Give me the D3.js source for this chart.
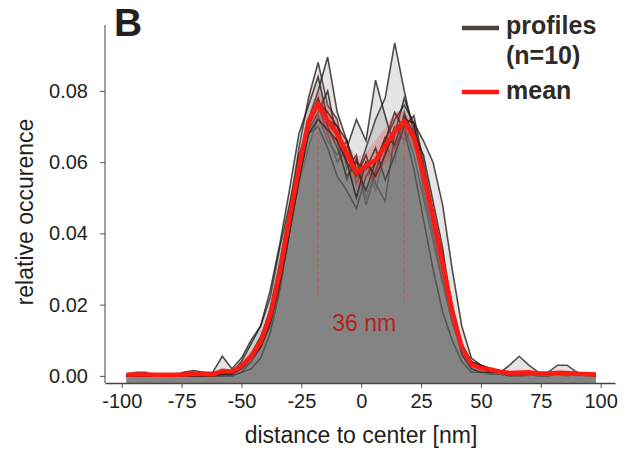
<!DOCTYPE html>
<html>
<head>
<meta charset="utf-8">
<script src="https://cdn.jsdelivr.net/npm/d3@7"></script>
<style>
  body { margin: 0; background: #fff; }
  svg text { font-family: "Liberation Sans", Arial, Helvetica, sans-serif; fill: #231f20; }
</style>
</head>
<body>
<svg id="chart"></svg>
<script>
var width = 629;
var height = 452;

// bin centres (nm)
var distance = [-98,-94,-90,-86,-82,-78,-74,-70,-66,-62,-58,-54,-50,-46,-42,-38,-34,-30,-26,-22,
  -18,-14,-10,-6,-2,2,6,10,14,18,22,26,30,34,38,42,46,50,54,58,62,66,70,74,78,82,86,90,94,98];

// the 10 individual profiles
var p1 = [0,0,0.0005,0,0,0,0.001,0,0.0005,0,0.001,0.001,
  0.002,0.005,0.009,0.016,0.028,0.046,0.064,0.078,0.088,0.076,0.072,0.058,0.062,0.050,0.058,0.065,0.060,0.074,
  0.066,0.055,0.042,0.030,0.016,0.007,0.003,0.002,0.001,0.001,0,0.001,0.001,0,0,0.001,0.001,0,0.0005,0];
var p2 = [0.0005,0.001,0.001,0,0,0,0,0.001,0,0,0.0005,0.001,
  0.003,0.006,0.010,0.019,0.032,0.047,0.060,0.072,0.080,0.0895,0.074,0.066,0.054,0.060,0.052,0.063,0.070,0.066,
  0.070,0.052,0.040,0.027,0.017,0.008,0.003,0.002,0.002,0.001,0.001,0,0,0.001,0.001,0.003,0.003,0.001,0.0005,0.0005];
var p3 = [0,0,0,0,0,0.0005,0,0,0,0.0005,0,0.0005,
  0.002,0.004,0.008,0.015,0.027,0.041,0.054,0.064,0.073,0.066,0.062,0.066,0.056,0.064,0.072,0.078,0.0935,0.080,
  0.068,0.058,0.046,0.033,0.019,0.009,0.004,0.003,0.002,0.001,0.0005,0.001,0.001,0.0005,0.0005,0.001,0.0005,0.0005,0.0005,0];
var p4 = [0,0,0,0.0005,0.0005,0,0,0,0.001,0.001,0.0055,0.002,
  0.005,0.010,0.014,0.022,0.036,0.048,0.062,0.070,0.076,0.068,0.060,0.064,0.072,0.066,0.083,0.073,0.064,0.070,
  0.062,0.050,0.038,0.026,0.015,0.007,0.003,0.002,0.0015,0.001,0.001,0.001,0.0005,0.0005,0.001,0.0005,0,0.0005,0.0005,0.0005];
var p5 = [0,0.0005,0,0,0,0,0,0,0,0,0,0,
  0.001,0.004,0.008,0.014,0.025,0.040,0.056,0.069,0.074,0.080,0.066,0.055,0.061,0.048,0.057,0.066,0.072,0.076,
  0.071,0.066,0.060,0.048,0.030,0.014,0.005,0.003,0.002,0.001,0.003,0.0055,0.003,0.001,0.0005,0.001,0.001,0.0005,0,0];
var p6 = [0,0,0,0,0,0,0.0005,0.001,0.0005,0,0.001,0.001,
  0.004,0.009,0.014,0.024,0.037,0.052,0.068,0.076,0.084,0.072,0.070,0.060,0.056,0.062,0.054,0.049,0.068,0.078,
  0.070,0.058,0.046,0.032,0.018,0.008,0.003,0.002,0.001,0.001,0.0005,0.0005,0.001,0.0005,0.0005,0.001,0.0005,0.0005,0.0005,0];
var p7 = [0.0005,0,0,0,0,0,0,0,0,0,0,0,
  0.001,0.002,0.005,0.012,0.024,0.040,0.055,0.068,0.070,0.064,0.056,0.052,0.047,0.056,0.060,0.066,0.074,0.069,
  0.058,0.044,0.030,0.018,0.010,0.004,0.001,0.001,0.0005,0.0005,0,0,0.0005,0,0,0.0005,0.0005,0.0005,0.0005,0.0005];
var p8 = [0,0.0005,0.0005,0.0005,0,0,0,0,0,0,0.001,0.0005,
  0.002,0.005,0.008,0.015,0.027,0.043,0.057,0.071,0.078,0.070,0.064,0.056,0.060,0.058,0.064,0.055,0.062,0.070,
  0.073,0.060,0.046,0.034,0.020,0.009,0.004,0.003,0.002,0.0015,0.001,0.001,0.001,0.0005,0.0005,0.001,0.001,0.001,0.0005,0.0005];
var p9 = [0,0,0,0,0,0,0.001,0.0015,0.001,0.0005,0.001,0.001,
  0.003,0.006,0.011,0.018,0.030,0.045,0.058,0.072,0.077,0.074,0.070,0.066,0.058,0.052,0.060,0.067,0.065,0.073,
  0.068,0.062,0.049,0.036,0.017,0.006,0.002,0.001,0.001,0.001,0.0005,0.0005,0.0005,0.0005,0.0005,0.0005,0.0005,0.0005,0.0005,0.0005];
var p10 = [0,0,0,0,0,0,0,0,0,0,0.0005,0.0005,
  0.003,0.005,0.008,0.015,0.026,0.040,0.055,0.068,0.072,0.069,0.066,0.060,0.050,0.060,0.056,0.062,0.069,0.072,
  0.071,0.058,0.044,0.030,0.017,0.008,0.003,0.002,0.002,0.001,0.001,0.001,0.001,0.0005,0.0005,0.0005,0.0005,0.0005,0.0005,0];
var profiles = [p1, p2, p3, p4, p5, p6, p7, p8, p9, p10];

// mean profile
var mean = [0.0003,0.0004,0.0004,0.0003,0.0003,0.0003,0.0004,0.0005,0.0005,0.0004,0.0014,0.0012,
  0.0028,0.0055,0.0095,0.0170,0.0290,0.0440,0.0585,0.0715,0.0765,0.0715,0.0680,0.0625,0.0570,0.0590,0.0605,0.0645,0.0685,0.0715,
  0.0670,0.0565,0.0445,0.0315,0.0180,0.0080,0.0032,0.0022,0.0018,0.0012,0.0008,0.0009,0.0010,0.0006,0.0006,0.0009,0.0008,0.0006,0.0005,0.0004];

var xTicks = [-100, -75, -50, -25, 0, 25, 50, 75, 100];
var yTicks = [0, 0.02, 0.04, 0.06, 0.08];
var peaks = [-18, 18];       // dashed markers
var peakLabel = "36 nm";
var legendLabels = ["profiles", "(n=10)", "mean"];

var svg = d3.select("#chart").attr("width", width).attr("height", height);

var x = d3.scaleLinear().domain([-107, 106]).range([105, 615]);
var y = d3.scaleLinear().domain([-0.002, 0.0985]).range([383, 25]);

var area = d3.area()
  .x(function(d, i){ return x(distance[i]); })
  .y0(y.range()[0])
  .y1(function(d){ return y(d); });
var line = d3.line()
  .x(function(d, i){ return x(distance[i]); })
  .y(function(d){ return y(d); });

// 95% band round the mean, from the profiles
var band = distance.map(function(dd, i){
  var vals = profiles.map(function(p){ return p[i]; });
  var se = d3.deviation(vals) / Math.sqrt(vals.length);
  return { lo: mean[i] - 1.96 * se, hi: mean[i] + 1.96 * se };
});

var plot = svg.append("g");

profiles.forEach(function(p){
  plot.append("path").attr("d", area(p))
    .attr("fill", "#787878").attr("fill-opacity", 0.2);
  plot.append("path").attr("d", line(p))
    .attr("fill", "none").attr("stroke", "#241a16").attr("stroke-opacity", 0.78)
    .attr("stroke-width", 1.6).attr("stroke-linejoin", "miter");
});

plot.append("path")
  .attr("d", d3.area()
    .x(function(d, i){ return x(distance[i]); })
    .y0(function(d){ return y(d.lo); })
    .y1(function(d){ return y(d.hi); })(band))
  .attr("fill", "#ff2020").attr("fill-opacity", 0.2);

// dashed peak markers
peaks.forEach(function(pk){
  var i = distance.indexOf(pk);
  plot.append("line")
    .attr("x1", x(pk)).attr("x2", x(pk))
    .attr("y1", y(mean[i])).attr("y2", y(0.0213))
    .attr("stroke", "#c8504a").attr("stroke-width", 1)
    .attr("stroke-dasharray", "4,3").attr("opacity", 0.85);
});

plot.append("path").attr("d", line(mean))
  .attr("fill", "none").attr("stroke", "#ff1a12").attr("stroke-width", 4.5)
  .attr("stroke-linejoin", "round");

plot.append("text")
  .attr("x", x(0) + 3).attr("y", 331)
  .attr("text-anchor", "middle")
  .style("font-size", "23px").style("fill", "#b8221e")
  .text(peakLabel);

// axes
var xAxis = svg.append("g").attr("transform", "translate(0,383)")
  .call(d3.axisBottom(x).tickValues(xTicks).tickFormat(function(d){ return String(d); })
    .tickSize(5).tickSizeOuter(0).tickPadding(6));
var yAxis = svg.append("g").attr("transform", "translate(105,0)")
  .call(d3.axisLeft(y).tickValues(yTicks).tickFormat(d3.format(".2f")).tickSize(5).tickSizeOuter(0).tickPadding(12));

[xAxis, yAxis].forEach(function(a){
  a.selectAll(".tick line").attr("stroke", "#5a5450").attr("stroke-width", 1);
  a.selectAll(".tick text").style("font-size", "20px").style("fill", "#231f20")
    .attr("font-family", null);
});
xAxis.select(".domain").attr("stroke", "#4a433f").attr("stroke-width", 1.5);
yAxis.select(".domain").attr("stroke", "#85807a").attr("stroke-width", 1.5)
  .attr("d", "M0," + y(0.0985) + "V383");

svg.append("text")
  .attr("x", 361).attr("y", 443)
  .attr("text-anchor", "middle")
  .style("font-size", "23px")
  .text("distance to center [nm]");

svg.append("text")
  .attr("transform", "translate(33,212) rotate(-90)")
  .attr("text-anchor", "middle")
  .style("font-size", "23px")
  .text("relative occurence");

svg.append("text")
  .attr("x", 114).attr("y", 36)
  .style("font-size", "39px").style("font-weight", "bold")
  .text("B");

// legend
var legend = svg.append("g");
legend.append("line").attr("x1", 462).attr("x2", 499).attr("y1", 28).attr("y2", 28)
  .attr("stroke", "#4a423d").attr("stroke-width", 4.5);
legend.append("line").attr("x1", 462).attr("x2", 499).attr("y1", 92).attr("y2", 92)
  .attr("stroke", "#ff1a12").attr("stroke-width", 4.5);
legend.selectAll("text.lg")
  .data(legendLabels)
  .enter().append("text")
  .attr("class", "lg")
  .attr("x", 506)
  .attr("y", function(d, i){ return [34, 64, 99][i]; })
  .style("font-size", "25px").style("font-weight", "bold").style("fill", "#2f2a26")
  .text(function(d){ return d; });
</script>
</body>
</html>
